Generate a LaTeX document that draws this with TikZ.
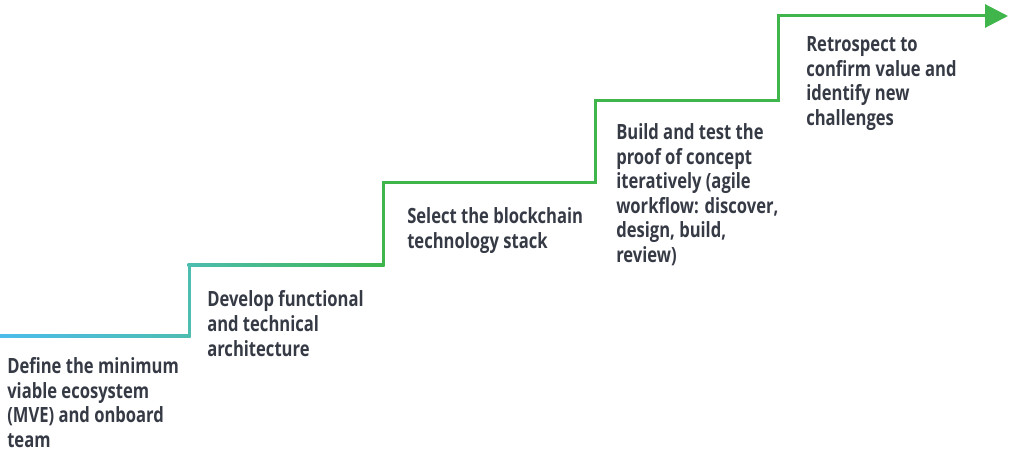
\documentclass[tikz,border=0pt]{standalone}
\usepackage{fontspec}
\newfontfamily\stairfont{Open Sans}[FakeStretch=0.79]
\usetikzlibrary{arrows.meta}
\definecolor{lineblue}{HTML}{4CBCEB}
\definecolor{lineteal}{HTML}{4DBDB0}
\definecolor{linegreen}{HTML}{3FB54C}
\definecolor{textgray}{HTML}{353A45}
\begin{document}
\begin{tikzpicture}[x=0.75pt,y=-0.75pt]
        \tikzset{stepbox/.style={anchor=base west,inner sep=0pt,align=left,text=textgray,
    font=\stairfont\bfseries\fontsize{15.75}{18.4}\selectfont}}
        \tikzset{endptr/.style={-{Triangle[length=17.25pt,width=17.25pt]}}}
        \useasboundingbox (0,0) rectangle (1009,453);
        % corners of the stairs
        \coordinate (s0) at (0,336);
        \coordinate (s1) at (189,336);
        \coordinate (s2) at (189,265);
        \coordinate (s3) at (383,265);
        \coordinate (s4) at (383,182);
        \coordinate (s5) at (595,182);
        \coordinate (s6) at (595,100);
        \coordinate (s7) at (778,100);
        \coordinate (s8) at (778,16);
        \coordinate (s9) at (1008,16);
        % treads with colour gradient
        \shade [left color=lineblue,right color=lineteal] (0,334.5) rectangle (190.5,337.5);
        \shade [left color=lineteal,right color=linegreen] (187.5,263.5) rectangle (384.5,266.5);
        \draw [lineteal,line width=2.25pt] (s1) -- (s2);
        \draw [linegreen,line width=2.25pt,line join=miter,endptr] (s3) -- (s4) -- (s5) -- (s6) -- (s7) -- (s8) -- (s9);
        % base anchor sits on the last line
        \node (mve) [stepbox] at (7,447.5) {Define the minimum\\viable ecosystem\\(MVE) and onboard\\team};
        \node (arch) [stepbox] at (207,356) {Develop functional\\and technical\\architecture};
        \node (stack) [stepbox] at (407,248) {Select the blockchain\\technology stack};
        \node (poc) [stepbox] at (616,262.5) {Build and test the\\proof of concept\\iteratively (agile\\workflow: discover,\\design, build,\\review)};
        \node (retro) [stepbox] at (806,125.5) {Retrospect to\\confirm value and\\identify new\\challenges};
    \end{tikzpicture}
\end{document}
